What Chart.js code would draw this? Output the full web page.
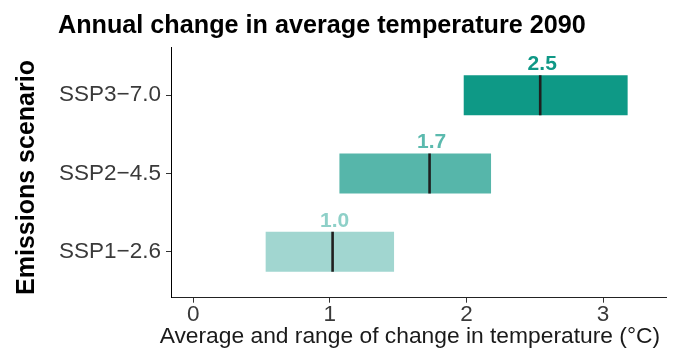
<!DOCTYPE html>
<html>
<head>
<meta charset="utf-8">
<script src="https://cdn.jsdelivr.net/npm/chart.js@4.4.1/dist/chart.umd.min.js"></script>
<style>
  html, body { margin: 0; padding: 0; background: #ffffff; }
  #wrap { width: 674px; height: 363px; }
</style>
</head>
<body>
<div id="wrap"><canvas id="chart" width="674" height="363"></canvas></div>
<script>
// Scenarios, bottom to top on the value axis
const scenarios = ['SSP1\u22122.6', 'SSP2\u22124.5', 'SSP3\u22127.0'];
// Range of projected change (°C)
const rangeLow  = [0.53, 1.07, 1.98];
const rangeHigh = [1.47, 2.18, 3.18];
// Average projected change (°C)
const averages  = [1.02, 1.73, 2.54];
// Temperature axis ticks
const xTicks = [0, 1, 2, 3];

const barColors   = ['#A1D6D0', '#56B6AA', '#0E9986'];
const labelColors = ['#8ED0C8', '#5BBAAE', '#0F9886'];
const FONT = '"Liberation Sans", Arial, Helvetica, sans-serif';

const positions = scenarios.map((_, i) => i + 1);

// Rounded averages printed above each bar
const valueLabels = {
  id: 'valueLabels',
  afterDatasetsDraw(chart) {
    const meta = chart.getDatasetMeta(1);
    const ctx = chart.ctx;
    ctx.save();
    ctx.font = 'bold 21px ' + FONT;
    ctx.textAlign = 'center';
    ctx.textBaseline = 'alphabetic';
    averages.forEach((v, i) => {
      const el = meta.data[i];
      const x = chart.scales.x.getPixelForValue(v) + 2;
      const y = el.y - el.height / 2 - 5;
      ctx.fillStyle = labelColors[i];
      ctx.fillText(v.toFixed(1), x, y);
    });
    ctx.restore();
  }
};

// Plot title and axis titles
const titles = {
  id: 'titles',
  afterDraw(chart) {
    const ctx = chart.ctx;
    const area = chart.chartArea;
    ctx.save();
    ctx.fillStyle = '#000000';
    ctx.textBaseline = 'alphabetic';

    ctx.font = 'bold 25.2px ' + FONT;
    ctx.textAlign = 'left';
    ctx.fillText('Annual change in average temperature 2090', 58, 32.5);

    ctx.font = '22.8px ' + FONT;
    ctx.textAlign = 'center';
    ctx.fillStyle = '#1a1a1a';
    ctx.fillText('Average and range of change in temperature (\u00B0C)', area.left + (area.right - area.left) / 2 - 9, 343);

    ctx.translate(34, (area.top + area.bottom) / 2 + 5);
    ctx.rotate(-Math.PI / 2);
    ctx.font = 'bold 25px ' + FONT;
    ctx.fillStyle = '#000000';
    ctx.fillText('Emissions scenario', 0, 0);
    ctx.restore();
  }
};

new Chart(document.getElementById('chart'), {
  type: 'bar',
  data: {
    datasets: [
      {
        type: 'scatter',
        label: 'Average',
        data: averages.map((v, i) => ({ x: v, y: positions[i] })),
        pointStyle: 'line',
        rotation: 90,
        radius: 20,
        hoverRadius: 20,
        borderWidth: 2.6,
        borderColor: '#1f1f1f',
        backgroundColor: '#1f1f1f',
        order: 0
      },
      {
        label: 'Range',
        data: rangeLow.map((lo, i) => ({ x: [lo, rangeHigh[i]], y: positions[i] })),
        backgroundColor: barColors,
        borderWidth: 0,
        categoryPercentage: 1,
        barPercentage: 0.51,
        order: 1
      }
    ]
  },
  options: {
    indexAxis: 'y',
    responsive: false,
    animation: false,
    devicePixelRatio: 1,
    events: [],
    layout: {
      autoPadding: false,
      padding: { top: 47.3, right: 7.3, bottom: 0, left: 0 }
    },
    plugins: {
      legend: { display: false },
      title: { display: false },
      tooltip: { enabled: false }
    },
    scales: {
      x: {
        type: 'linear',
        position: 'bottom',
        min: -0.163,
        max: 3.466,
        offset: false,
        afterBuildTicks(scale) { scale.ticks = xTicks.map(v => ({ value: v })); },
        afterFit(scale) {
          scale.height = 65.3;
          scale.paddingLeft = 0;
          scale.paddingRight = 0;
        },
        ticks: {
          autoSkip: false,
          padding: 1,
          color: '#3a3a3a',
          font: { family: FONT, size: 22.5, lineHeight: 1 },
          callback: (v) => String(v)
        },
        grid: {
          offset: false,
          drawOnChartArea: false,
          drawTicks: true,
          tickLength: 5,
          color: '#333333',
          lineWidth: 1
        },
        border: { display: true, color: '#222222', width: 1 },
        title: { display: false }
      },
      y: {
        type: 'linear',
        position: 'left',
        min: 0.412,
        max: 3.612,
        offset: false,
        afterBuildTicks(scale) { scale.ticks = positions.map(v => ({ value: v })); },
        afterFit(scale) {
          scale.width = 171;
          scale.paddingTop = 0;
          scale.paddingBottom = 0;
        },
        ticks: {
          autoSkip: false,
          padding: 5,
          color: '#3a3a3a',
          font: { family: FONT, size: 22.5 },
          callback: (v) => scenarios[Math.round(v) - 1] || ''
        },
        grid: {
          offset: false,
          drawOnChartArea: false,
          drawTicks: true,
          tickLength: 5,
          color: '#333333',
          lineWidth: 1
        },
        border: { display: true, color: '#000000', width: 1 },
        title: { display: false }
      }
    }
  },
  plugins: [valueLabels, titles]
});
</script>
</body>
</html>
